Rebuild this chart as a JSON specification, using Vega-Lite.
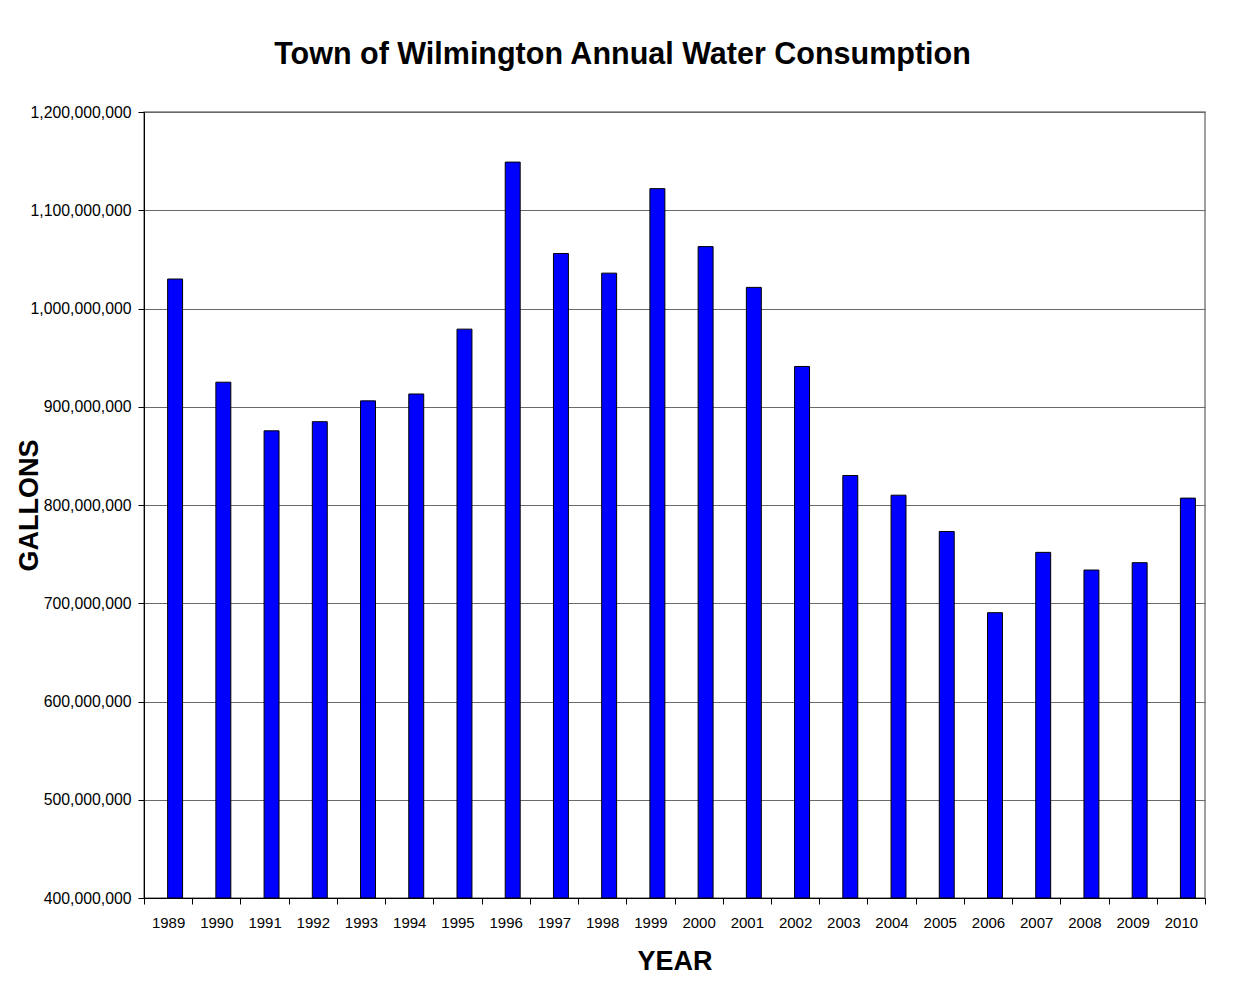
{
  "$schema": "https://vega.github.io/schema/vega-lite/v6.json",
  "autosize": {"type": "none"},
  "width": 1061,
  "height": 786,
  "padding": {"left": 144, "top": 112, "right": 31, "bottom": 90},
  "background": "white",
  "title": {
    "text": "Town of Wilmington Annual Water Consumption",
    "font": "Liberation Sans",
    "fontSize": 30.5,
    "fontWeight": "bold",
    "color": "black",
    "anchor": "middle",
    "frame": "group",
    "dx": -52,
    "offset": 34
  },
  "data": {
    "values": [
      {"year": "1989", "gallons": 1030000000},
      {"year": "1990", "gallons": 925000000},
      {"year": "1991", "gallons": 875500000},
      {"year": "1992", "gallons": 884800000},
      {"year": "1993", "gallons": 906000000},
      {"year": "1994", "gallons": 913000000},
      {"year": "1995", "gallons": 979000000},
      {"year": "1996", "gallons": 1149000000},
      {"year": "1997", "gallons": 1056000000},
      {"year": "1998", "gallons": 1036000000},
      {"year": "1999", "gallons": 1122000000},
      {"year": "2000", "gallons": 1063000000},
      {"year": "2001", "gallons": 1021500000},
      {"year": "2002", "gallons": 941000000},
      {"year": "2003", "gallons": 830000000},
      {"year": "2004", "gallons": 810000000},
      {"year": "2005", "gallons": 773000000},
      {"year": "2006", "gallons": 690400000},
      {"year": "2007", "gallons": 751800000},
      {"year": "2008", "gallons": 733800000},
      {"year": "2009", "gallons": 741300000},
      {"year": "2010", "gallons": 807000000}
    ]
  },
  "mark": {
    "type": "bar",
    "color": "#0000FF",
    "stroke": "black",
    "strokeWidth": 1,
    "width": {"band": 0.31},
    "xOffset": 7,
    "clip": true
  },
  "encoding": {
    "x": {
      "field": "year",
      "type": "nominal",
      "sort": null,
      "scale": {"paddingInner": 0, "paddingOuter": 0},
      "axis": {
        "title": "YEAR",
        "titleFont": "Liberation Sans",
        "titleFontSize": 27,
        "titleFontWeight": "bold",
        "titleColor": "black",
        "titlePadding": 18,
        "labelAngle": 0,
        "labelFont": "Liberation Sans",
        "labelFontSize": 15,
        "labelColor": "black",
        "labelPadding": 11,
        "tickBand": "extent",
        "tickSize": 6,
        "tickColor": "#000000",
        "domainColor": "#000000",
        "grid": false
      }
    },
    "y": {
      "field": "gallons",
      "type": "quantitative",
      "scale": {"domain": [400000000, 1200000000], "zero": false, "nice": false},
      "axis": {
        "title": "GALLONS",
        "titleFont": "Liberation Sans",
        "titleFontSize": 27,
        "titleFontWeight": "bold",
        "titleColor": "black",
        "titleX": -101,
        "values": [400000000, 500000000, 600000000, 700000000, 800000000, 900000000, 1000000000, 1100000000, 1200000000],
        "format": ",d",
        "labelFont": "Liberation Sans",
        "labelFontSize": 15.8,
        "labelColor": "black",
        "labelPadding": 7,
        "tickSize": 6,
        "tickColor": "#000000",
        "domainColor": "#000000",
        "grid": true,
        "gridColor": "#6a6a6a",
        "gridWidth": 1
      }
    },
    "y2": {"datum": 400000000}
  },
  "config": {
    "view": {"stroke": "#808080", "strokeWidth": 1.5},
    "axis": {"domainWidth": 1, "tickWidth": 1}
  }
}
